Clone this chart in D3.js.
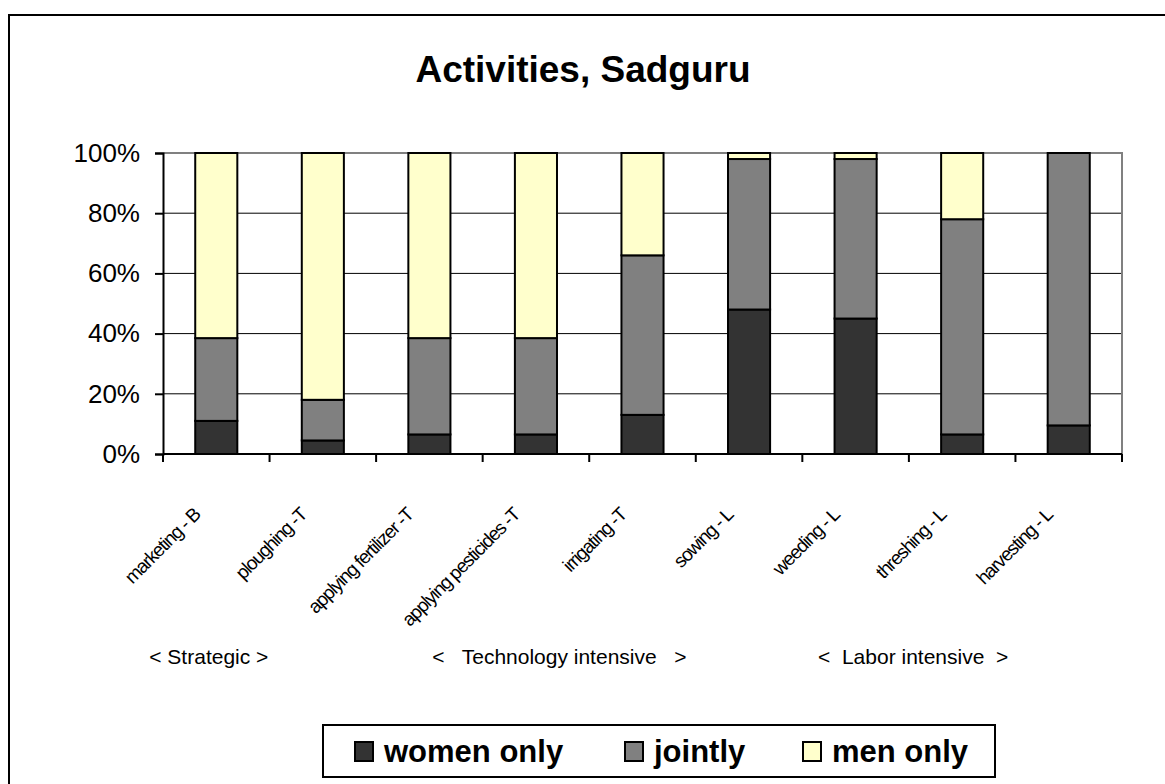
<!DOCTYPE html>
<html>
<head>
<meta charset="utf-8">
<script src="https://cdn.jsdelivr.net/npm/d3@7"></script>
<style>
  body { margin: 0; background: #fff; }
  text { font-family: Arial, "Liberation Sans", sans-serif; }
</style>
</head>
<body>
<div id="vis"></div>
<script>
// data (percent of respondents)
const categories = ['marketing - B', 'ploughing -T', 'applying fertilizer -T', 'applying pesticides -T',
    'irrigating -T', 'sowing - L', 'weeding - L', 'threshing - L', 'harvesting - L']
const womenOnly = [11, 4.5, 6.5, 6.5, 13, 48, 45, 6.5, 9.5]
const jointly   = [27.5, 13.5, 32, 32, 53, 50, 53, 71.5, 90.5]
const menOnly   = [61.5, 82, 61.5, 61.5, 34, 2, 2, 22, 0]
const seriesNames = ['women only', 'jointly', 'men only']
const yTicks = [0, 20, 40, 60, 80, 100]
const groupLabels = ['< Strategic >', '<   Technology intensive   >', '<  Labor intensive  >']
const groupAt = [-0.07, 3.22, 6.54]   // category index each group label is centred under

const colors = {'women only': '#333333', 'jointly': '#808080', 'men only': '#FFFFCC'}

const width = 1165, height = 784
const plot = {left: 163, right: 1122, top: 153, bottom: 454}

let svg = d3.select('#vis').append('svg')
    .attr('width', width)
    .attr('height', height)

// chart frame (runs off the right and bottom edge)
svg.append('rect')
    .attr('x', 9).attr('y', 15)
    .attr('width', 1175).attr('height', 800)
    .attr('fill', 'none')
    .attr('stroke', 'black')
    .attr('stroke-width', 2)

svg.append('text')
    .attr('x', 583).attr('y', 82)
    .attr('text-anchor', 'middle')
    .attr('font-size', 37)
    .attr('font-weight', 'bold')
    .text('Activities, Sadguru')

let table = categories.map((c, i) => ({
    category: c,
    'women only': womenOnly[i],
    'jointly': jointly[i],
    'men only': menOnly[i]
}))

let stacked = d3.stack().keys(seriesNames)(table)

let x = d3.scaleBand()
    .domain(categories)
    .range([plot.left, plot.right])
    .paddingInner(0.605)
    .paddingOuter(0.3025)

let y = d3.scaleLinear()
    .domain([0, 100])
    .range([plot.bottom, plot.top])

// gridlines
svg.append('g')
    .selectAll('line')
    .data(yTicks.filter(t => t > 0 && t < 100))
    .enter()
    .append('line')
        .attr('x1', plot.left).attr('x2', plot.right)
        .attr('y1', d => y(d)).attr('y2', d => y(d))
        .attr('stroke', 'black')
        .attr('stroke-width', 1)

// plot area border (top and right, grey)
svg.append('path')
    .attr('d', `M${plot.left},${plot.top}H${plot.right}V${plot.bottom}`)
    .attr('fill', 'none')
    .attr('stroke', '#808080')
    .attr('stroke-width', 2)

// bars
svg.append('g')
    .selectAll('g')
    .data(stacked)
    .enter()
    .append('g')
        .attr('fill', d => colors[d.key])
    .selectAll('rect')
    .data(d => d.filter(s => s[1] - s[0] > 0))
    .enter()
    .append('rect')
        .attr('x', d => x(d.data.category))
        .attr('width', x.bandwidth())
        .attr('y', d => y(d[1]))
        .attr('height', d => y(d[0]) - y(d[1]))
        .attr('stroke', 'black')
        .attr('stroke-width', 2)

// y axis
let yAxis = svg.append('g')
    .attr('transform', `translate(${plot.left},0)`)
    .call(d3.axisLeft(y).tickValues(yTicks).tickFormat(d => d + '%').tickSize(8).tickPadding(15))
yAxis.select('.domain').attr('stroke', 'black').attr('stroke-width', 2)
yAxis.selectAll('.tick line').attr('stroke-width', 2)
yAxis.selectAll('.tick text')
    .attr('font-size', 26)
    .attr('font-family', 'Arial, "Liberation Sans", sans-serif')
    .attr('fill', 'black')

// x axis: ticks sit on the category boundaries
let step = x.step()
let boundaries = d3.range(categories.length + 1).map(i => plot.left + i * step)
svg.append('line')
    .attr('x1', plot.left).attr('x2', plot.right)
    .attr('y1', plot.bottom).attr('y2', plot.bottom)
    .attr('stroke', 'black')
    .attr('stroke-width', 2)
svg.append('g')
    .selectAll('line')
    .data(boundaries)
    .enter()
    .append('line')
        .attr('x1', d => d).attr('x2', d => d)
        .attr('y1', plot.bottom).attr('y2', plot.bottom + 8)
        .attr('stroke', 'black')
        .attr('stroke-width', 2)

// rotated category labels (condensed, like the original)
svg.append('g')
    .selectAll('text')
    .data(categories)
    .enter()
    .append('text')
        .attr('transform', d => `translate(${x(d) + x.bandwidth() / 2 - 15},516) rotate(-45)`)
        .attr('text-anchor', 'end')
        .attr('font-size', 19)
        .attr('letter-spacing', -1.2)
        .text(d => d)

// group labels
svg.append('g')
    .selectAll('text')
    .data(groupLabels)
    .enter()
    .append('text')
        .attr('x', (d, i) => plot.left + (groupAt[i] + 0.5) * step)
        .attr('y', 664)
        .attr('text-anchor', 'middle')
        .attr('font-size', 21)
        .style('white-space', 'pre')
        .text(d => d)

// legend
let legendX = [355, 625, 803]
let legend = svg.append('g')
legend.append('rect')
    .attr('x', 323).attr('y', 725)
    .attr('width', 672).attr('height', 52)
    .attr('fill', 'white')
    .attr('stroke', 'black')
    .attr('stroke-width', 2)
let items = legend.selectAll('.item')
    .data(seriesNames)
    .enter()
    .append('g')
        .attr('class', 'item')
        .attr('transform', (d, i) => `translate(${legendX[i]},0)`)
items.append('rect')
    .attr('x', 0).attr('y', 742)
    .attr('width', 18).attr('height', 19)
    .attr('fill', d => colors[d])
    .attr('stroke', 'black')
    .attr('stroke-width', 2)
items.append('text')
    .attr('x', 29).attr('y', 762)
    .attr('font-size', 31)
    .attr('font-weight', 'bold')
    .text(d => d)
</script>
</body>
</html>
